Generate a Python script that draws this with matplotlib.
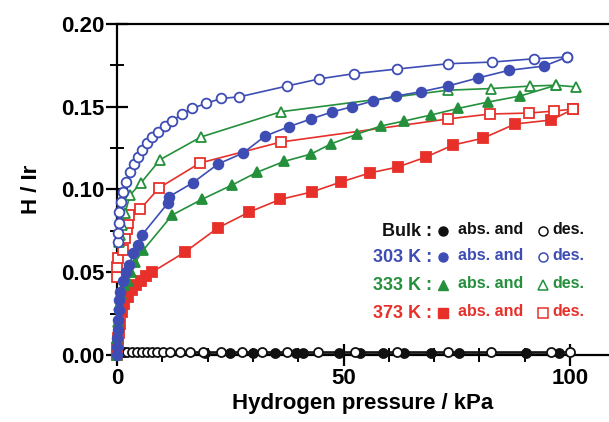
import numpy as np
import matplotlib
matplotlib.use("Agg")
import matplotlib.pyplot as plt

plt.rcParams['font.family'] = ['Liberation Sans', 'DejaVu Sans']
plt.rcParams['font.weight'] = 'bold'

BLUE = '#3d4db4'
GREEN = '#24903c'
RED = '#e8302a'
BLACK = '#111111'

# 303 K
p303_des = [0.2, 0.3, 0.4, 0.45, 0.9, 1.3, 2.0, 2.9, 3.8, 4.6, 5.5, 6.6, 7.7, 9.0, 10.6, 12.2,
            14.3, 16.6, 19.6, 23.0, 27.0, 37.5, 44.6, 52.3, 61.9, 73.1, 82.8, 92.1, 99.3]
h303_des = [0.068, 0.074, 0.080, 0.0864, 0.0924, 0.0985, 0.1045, 0.1106, 0.1154, 0.1196, 0.124,
            0.128, 0.132, 0.135, 0.1384, 0.1414, 0.1456, 0.149, 0.152, 0.155, 0.156, 0.1625,
            0.1668, 0.170, 0.1728, 0.176, 0.177, 0.179, 0.180]
p303_abs = [0.0, 0.05, 0.1, 0.15, 0.2, 0.4, 0.5, 0.7, 1.3, 2.0, 2.7, 3.6, 4.6, 5.5, 11.3, 11.4,
            16.7, 22.3, 27.8, 32.7, 38.0, 42.8, 47.4, 51.9, 56.5, 61.6, 67.0, 73.0, 79.7, 86.5,
            94.3, 99.3]
h303_abs = [0.0, 0.005, 0.010, 0.015, 0.021, 0.027, 0.033, 0.038, 0.045, 0.050, 0.0544, 0.0616,
            0.0665, 0.0725, 0.092, 0.0955, 0.104, 0.1154, 0.122, 0.1323, 0.138, 0.1426, 0.1468,
            0.150, 0.1535, 0.1565, 0.159, 0.1625, 0.1674, 0.172, 0.1746, 0.180]

# 333 K
p333_des = [0.5, 0.7, 1.1, 1.8, 2.9, 5.3, 9.5, 18.5, 36.2, 73.0, 82.6, 91.2, 96.9, 101.3]
h333_des = [0.068, 0.0725, 0.0785, 0.086, 0.0967, 0.104, 0.118, 0.1317, 0.147, 0.160, 0.161,
            0.1625, 0.163, 0.162]
p333_abs = [0.0, 0.1, 0.2, 0.4, 0.8, 1.5, 2.4, 3.0, 4.0, 5.8, 12.2, 18.7, 25.4, 30.9, 36.9,
            42.8, 47.2, 53.0, 58.3, 63.4, 69.3, 75.3, 82.0, 89.0, 96.9]
h333_abs = [0.0, 0.010, 0.020, 0.030, 0.037, 0.042, 0.045, 0.050, 0.056, 0.0634, 0.0846, 0.094,
            0.1027, 0.1104, 0.117, 0.1214, 0.1275, 0.1335, 0.1384, 0.1414, 0.145, 0.149, 0.1529,
            0.1565, 0.163]

# 373 K
p373_des = [0.05, 0.1, 0.3, 1.3, 1.8, 2.2, 2.4, 2.7, 5.1, 9.3, 18.3, 36.2, 73.0, 82.3, 91.0,
            96.5, 100.7]
h373_des = [0.047, 0.053, 0.0586, 0.0634, 0.0707, 0.076, 0.080, 0.0846, 0.088, 0.101, 0.116,
            0.1287, 0.1426, 0.1456, 0.1462, 0.1474, 0.1486]
p373_abs = [0.0, 0.1, 0.2, 0.3, 0.4, 0.7, 1.1, 1.5, 2.4, 3.3, 4.2, 5.3, 6.4, 7.7, 15.0, 22.2,
            29.2, 36.0, 43.0, 49.4, 55.8, 62.0, 68.2, 74.2, 80.8, 87.9, 95.9, 100.7]
h373_abs = [0.0, 0.004, 0.007, 0.010, 0.013, 0.019, 0.026, 0.031, 0.035, 0.039, 0.042, 0.045,
            0.048, 0.050, 0.0622, 0.0767, 0.0864, 0.094, 0.0985, 0.1045, 0.110, 0.1136, 0.1196,
            0.1269, 0.131, 0.1396, 0.142, 0.1486]

# Bulk
pbulk_des = [0.5, 1.0, 1.5, 2.2, 3.3, 4.4, 5.5, 6.6, 7.7, 8.8, 10.2, 11.7, 14.0, 16.1, 19.0,
             23.0, 27.5, 32.0, 37.6, 44.4, 52.5, 61.7, 73.0, 82.6, 95.9, 100.0]
hbulk_des = [0.002] * len(pbulk_des)
pbulk_abs = [0.0, 19.4, 25.0, 30.0, 34.8, 39.5, 41.0, 48.9, 53.6, 58.7, 63.4, 69.4, 75.4,
             90.3, 97.6]
hbulk_abs = [0.001] * len(pbulk_abs)

fig = plt.figure(figsize=(6.09, 4.22), dpi=100)
ax = fig.add_axes([117/609, 67/422, 492/609, 331/422])

def draw(p, h, color, marker, filled, ms=7):
    ax.plot(p, h, color=color, lw=1.2, marker=marker, ms=ms,
            mfc=color if filled else 'white', mec=color, mew=1.3, clip_on=False, zorder=3)

draw(pbulk_abs, hbulk_abs, BLACK, 'o', True, 6.5)
draw(pbulk_des, hbulk_des, BLACK, 'o', False, 6.5)
draw(p373_abs, h373_abs, RED, 's', True, 6.5)
draw(p373_des, h373_des, RED, 's', False, 6.5)
draw(p333_abs, h333_abs, GREEN, '^', True, 7.5)
draw(p333_des, h333_des, GREEN, '^', False, 7.5)
draw(p303_abs, h303_abs, BLUE, 'o', True)
draw(p303_des, h303_des, BLUE, 'o', False)

ax.set_xlim(0, 108.6)
ax.set_ylim(0, 0.20)
ax.spines['right'].set_visible(False)
for s in ['left', 'top', 'bottom']:
    ax.spines[s].set_linewidth(1.6)
ax.set_xticks([0, 50, 100])
ax.set_xticks(np.arange(10, 101, 10), minor=True)
ax.set_yticks([0, 0.05, 0.10, 0.15, 0.20])
ax.set_yticks([0.025, 0.075, 0.125, 0.175], minor=True)
ax.set_yticklabels(['0.00', '0.05', '0.10', '0.15', '0.20'])
ax.tick_params(which='major', direction='inout', length=16, width=1.6, labelsize=16, pad=1)
ax.tick_params(which='minor', direction='inout', length=10, width=1.4)
ax.tick_params(top=False, right=False)
ax.set_xlabel('Hydrogen pressure / kPa', fontsize=16, fontweight='bold', labelpad=3)
ax.set_ylabel('H / Ir', fontsize=16, fontweight='bold', labelpad=14)

# legend block
rows = [('Bulk :', BLACK, 'o'), ('303 K :', BLUE, 'o'), ('333 K :', GREEN, '^'), ('373 K :', RED, 's')]
row_y = [231, 257, 285, 313]

def ax_x(px):
    return (px - 117) / 492

def ax_y(py):
    return (355 - py) / 331

for (lab, col, mk), py in zip(rows, row_y):
    y = ax_y(py)
    ax.text(ax_x(432), y, lab, color=col, fontsize=13, fontweight='bold',
            ha='right', va='center', transform=ax.transAxes)
    ax.plot([ax_x(443)], [y], marker=mk, ms=6.5 if mk != '^' else 7, color=col,
            transform=ax.transAxes, clip_on=False, ls='none')
    ax.text(ax_x(458), y + 0.006, 'abs. and', color=col, fontsize=11.5, fontweight='bold',
            ha='left', va='center', transform=ax.transAxes)
    ax.plot([ax_x(543)], [y], marker=mk, ms=6.5 if mk != '^' else 7, mfc='white', mec=col,
            mew=1.1, transform=ax.transAxes, clip_on=False, ls='none')
    ax.text(ax_x(552), y + 0.006, 'des.', color=col, fontsize=11.5, fontweight='bold',
            ha='left', va='center', transform=ax.transAxes)

fig.savefig('out.png', dpi=100)
